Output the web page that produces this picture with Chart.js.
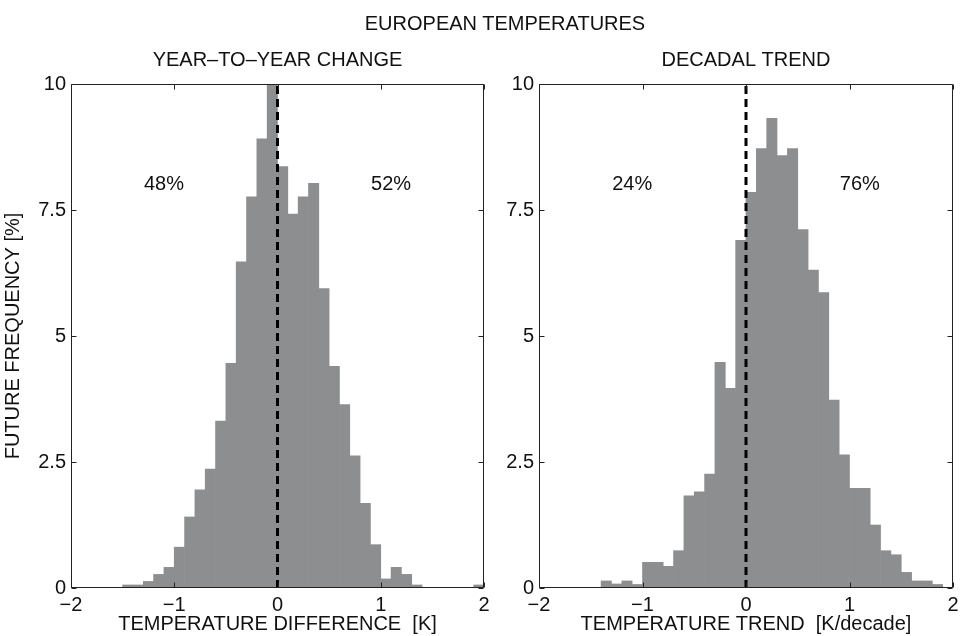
<!DOCTYPE html>
<html>
<head>
<meta charset="utf-8">
<script src="https://cdn.jsdelivr.net/npm/chart.js@4.4.1/dist/chart.umd.min.js"></script>
<style>
html,body{margin:0;padding:0;background:#fff;overflow:hidden;}
#wrap{position:relative;width:961px;height:636px;overflow:hidden;background:#fff;}
canvas{position:absolute;left:0;top:0;}
#title{position:absolute;top:11px;left:0;width:1010px;text-align:center;font-family:'Liberation Sans',Arial,sans-serif;font-size:20px;line-height:24px;color:#111;}
</style>
</head>
<body>
<div id="wrap">
<canvas id="c1" width="1000" height="636" style="width:1000px;height:636px"></canvas>
<canvas id="c2" width="1000" height="636" style="width:1000px;height:636px"></canvas>
<div id="title">EUROPEAN TEMPERATURES</div>
</div>
<script>
// ---- data ----
const binCenters = [-1.95,-1.85,-1.75,-1.65,-1.55,-1.45,-1.35,-1.25,-1.15,-1.05,
  -0.95,-0.85,-0.75,-0.65,-0.55,-0.45,-0.35,-0.25,-0.15,-0.05,
  0.05,0.15,0.25,0.35,0.45,0.55,0.65,0.75,0.85,0.95,
  1.05,1.15,1.25,1.35,1.45,1.55,1.65,1.75,1.85,1.95];

const yearToYearFreq = [0,0,0,0,0,0.06,0.06,0.13,0.27,0.41,
  0.81,1.41,1.95,2.36,3.31,4.46,6.47,7.76,8.91,10.4,
  8.36,7.42,7.76,8.03,5.94,4.40,3.64,2.62,1.68,0.86,
  0.18,0.41,0.27,0.06,0,0,0,0,0,0.06];

const decadalTrendFreq = [0,0,0,0,0,0,0.14,0.08,0.14,0.07,
  0.51,0.51,0.43,0.74,1.83,1.91,2.26,4.48,3.96,6.90,
  7.85,8.72,9.32,8.58,8.72,7.11,6.31,5.86,3.73,2.64,
  1.98,1.98,1.25,0.74,0.66,0.31,0.14,0.14,0.07,0];

const xTickValues = [-2,-1,0,1,2];
const yTickValues = [0,2.5,5,7.5,10];
const zeroLineX = [0,0];
const zeroLineY = [0,10];

const leftShares = ['48%','52%'];
const rightShares = ['24%','76%'];
const shareX = [-1.1, 1.1];
const shareY = 8.0;

// ---- styling ----
const FONT = "'Liberation Sans', Arial, sans-serif";
Chart.defaults.font.family = FONT;
Chart.defaults.font.size = 20;
Chart.defaults.color = '#111';
const BAR_COLOR = 'rgb(141,142,144)';

const frameTicks = {
  id: 'frameTicks',
  afterDatasetsDraw(chart, args, opts) {
    const {ctx, chartArea: a, scales: {x, y}} = chart;
    ctx.save();
    ctx.strokeStyle = '#222';
    ctx.lineWidth = 1;
    const L = Math.round(a.left) + 0.5, R = Math.round(a.right) - 0.5;
    const T = Math.round(a.top) + 0.5, B = Math.round(a.bottom) - 0.5;
    ctx.beginPath();
    ctx.rect(L, T, R - L, B - T);
    const len = 5;
    x.ticks.forEach(t => {
      const px = Math.round(x.getPixelForValue(t.value)) + 0.5;
      ctx.moveTo(px, B); ctx.lineTo(px, B - len);
      ctx.moveTo(px, T); ctx.lineTo(px, T + len);
    });
    y.ticks.forEach(t => {
      const py = Math.round(y.getPixelForValue(t.value)) + 0.5;
      ctx.moveTo(L, py); ctx.lineTo(L + len, py);
      ctx.moveTo(R, py); ctx.lineTo(R - len, py);
    });
    ctx.stroke();
    ctx.fillStyle = '#111';
    ctx.font = '20px ' + FONT;
    ctx.textAlign = 'center';
    ctx.textBaseline = 'middle';
    (opts.labels || []).forEach((lab, i) => {
      ctx.fillText(lab, x.getPixelForValue(shareX[i]), y.getPixelForValue(shareY));
    });
    ctx.restore();
  }
};

function makeChart(id, values, subtitle, xTitle, yTitle, pad, yWidth, labels) {
  return new Chart(document.getElementById(id), {
    type: 'bar',
    data: {
      datasets: [
        {
          type: 'line',
          data: zeroLineX.map((v, i) => ({x: v, y: zeroLineY[i]})),
          borderColor: '#000',
          borderWidth: 3,
          borderDash: [8, 5],
          pointRadius: 0,
          order: 0
        },
        {
          type: 'bar',
          data: binCenters.map((c, i) => ({x: c, y: values[i]})),
          backgroundColor: BAR_COLOR,
          borderWidth: 0,
          barPercentage: 1,
          categoryPercentage: 1,
          grouped: false,
          order: 1
        }
      ]
    },
    options: {
      responsive: false,
      animation: false,
      devicePixelRatio: 1,
      layout: {padding: pad},
      plugins: {
        legend: {display: false},
        tooltip: {enabled: false},
        title: {
          display: true,
          text: subtitle,
          fullSize: false,
          font: {size: 20, weight: 'normal'},
          color: '#111',
          padding: {top: 48, bottom: 12}
        },
        frameTicks: {labels: labels}
      },
      scales: {
        x: {
          type: 'linear',
          min: -2, max: 2,
          offset: false,
          grid: {display: false, offset: false, drawTicks: false},
          border: {display: false},
          afterBuildTicks: s => { s.ticks = xTickValues.map(v => ({value: v})); },
          ticks: {
            padding: 5,
            maxRotation: 0,
            callback: v => String(v).replace('-', '\u2212')
          },
          title: {display: true, text: xTitle, padding: {top: 0, bottom: 0}},
          afterFit: s => { s.height = 48; }
        },
        y: {
          type: 'linear',
          min: 0, max: 10,
          grid: {display: false, drawTicks: false},
          border: {display: false},
          afterBuildTicks: s => { s.ticks = yTickValues.map(v => ({value: v})); },
          ticks: {padding: 5},
          title: {display: !!yTitle, text: yTitle || '', padding: {top: 1, bottom: 0}},
          afterFit: s => { s.width = yWidth; }
        }
      }
    },
    plugins: [frameTicks]
  });
}

makeChart('c1', yearToYearFreq, 'YEAR\u2013TO\u2013YEAR CHANGE', 'TEMPERATURE DIFFERENCE  [K]',
  'FUTURE FREQUENCY [%]', {left: 0, right: 516, top: 0, bottom: 0}, 71, leftShares);
makeChart('c2', decadalTrendFreq, 'DECADAL TREND', 'TEMPERATURE TREND  [K/decade]',
  null, {left: 480, right: 47, top: 0, bottom: 0}, 59, rightShares);
</script>
</body>
</html>
